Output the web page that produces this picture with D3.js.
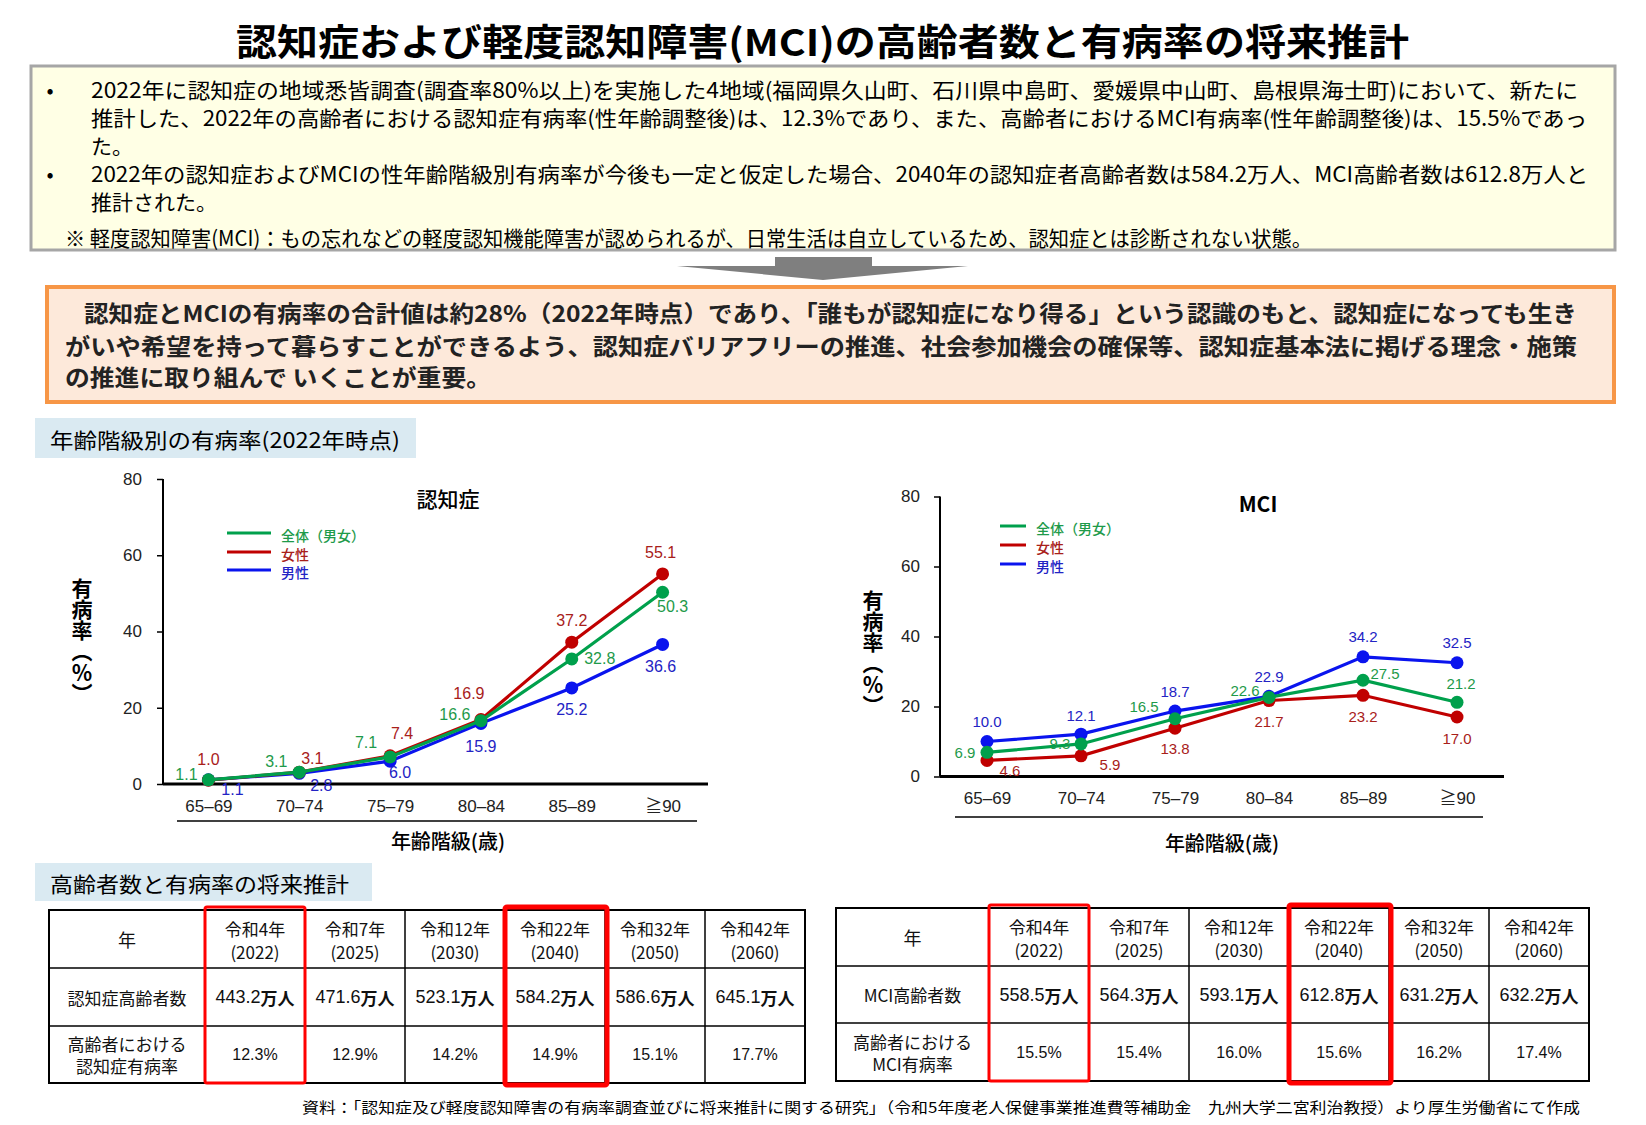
<!DOCTYPE html>
<html lang="ja">
<head>
<meta charset="UTF-8">
<title>認知症および軽度認知障害（MCI）の高齢者数と有病率の将来推計</title>
<script src="https://d3js.org/d3.v7.min.js"></script>
<style>
  body { margin: 0; background: #fff; }
  svg { display: block; font-family: "Noto Sans CJK JP", sans-serif; }
</style>
</head>
<body>
<div id="chart"></div>
<script>
// ---- data ----
const ageGroups = ["65–69", "70–74", "75–79", "80–84", "85–89", "≧90"];
const yTicks = [0, 20, 40, 60, 80];
const seriesNames = ["全体（男女）", "女性", "男性"];

const dementiaAll = [1.1, 3.1, 7.1, 16.6, 32.8, 50.3];
const dementiaFemale = [1.0, 3.1, 7.4, 16.9, 37.2, 55.1];
const dementiaMale = [1.1, 2.8, 6.0, 15.9, 25.2, 36.6];

const mciAll = [6.9, 9.3, 16.5, 22.6, 27.5, 21.2];
const mciFemale = [4.6, 5.9, 13.8, 21.7, 23.2, 17.0];
const mciMale = [10.0, 12.1, 18.7, 22.9, 34.2, 32.5];

const eraYears = ["令和4年", "令和7年", "令和12年", "令和22年", "令和32年", "令和42年"];
const adYears = ["(2022)", "(2025)", "(2030)", "(2040)", "(2050)", "(2060)"];
const dementiaCounts = [443.2, 471.6, 523.1, 584.2, 586.6, 645.1];
const dementiaRates = [12.3, 12.9, 14.2, 14.9, 15.1, 17.7];
const mciCounts = [558.5, 564.3, 593.1, 612.8, 631.2, 632.2];
const mciRates = [15.5, 15.4, 16.0, 15.6, 16.2, 17.4];
const highlightCols = [0, 3];

// label placement (pixel offsets from each point), order: all / female / male
const dementiaLabelOffsets = [
  [[-22, -5], [-23, -11], [-24, -14], [-26, -6], [28, 0], [10, 14]],
  [[0, -21], [13, -14], [12, -22], [-12, -26], [0, -22], [-2, -21]],
  [[24, 10], [22, 12], [10, 11], [0, 23], [0, 22], [-2, 22]]
];
const mciLabelOffsets = [
  [[-22, 0], [-21, 0], [-31, -12], [-24, -7], [22, -7], [4, -19]],
  [[23, 10], [29, 9], [0, 20], [0, 21], [0, 21], [0, 21]],
  [[0, -20], [0, -19], [0, -20], [0, -20], [0, -20], [0, -20]]
];

const lineColors = ["#00A04C", "#C00000", "#0A14EE"];
const textColors = ["#1E9A4A", "#A8201A", "#2323C4"];

const W = 1646, H = 1125;
const svg = d3.select("#chart").append("svg")
  .attr("width", W).attr("height", H);

// ---- title ----
svg.append("text")
  .attr("x", 236).attr("y", 40)
  .attr("dominant-baseline", "central")
  .attr("font-size", 37).attr("font-weight", "bold")
  .attr("textLength", 1173).attr("lengthAdjust", "spacingAndGlyphs")
  .text("認知症および軽度認知障害(MCI)の高齢者数と有病率の将来推計");

// ---- summary box ----
svg.append("rect")
  .attr("x", 31).attr("y", 66).attr("width", 1584).attr("height", 184)
  .attr("fill", "#FFFFE5").attr("stroke", "#A6A6A6").attr("stroke-width", 3);

const summaryLines = [
  { t: "2022年に認知症の地域悉皆調査(調査率80%以上)を実施した4地域(福岡県久山町、石川県中島町、愛媛県中山町、島根県海士町)において、新たに", x: 91, y: 89, w: 1487, bullet: true },
  { t: "推計した、2022年の高齢者における認知症有病率(性年齢調整後)は、12.3%であり、また、高齢者におけるMCI有病率(性年齢調整後)は、15.5%であっ", x: 91, y: 117, w: 1496 },
  { t: "た。", x: 91, y: 145 },
  { t: "2022年の認知症およびMCIの性年齢階級別有病率が今後も一定と仮定した場合、2040年の認知症者高齢者数は584.2万人、MCI高齢者数は612.8万人と", x: 91, y: 173, w: 1497, bullet: true },
  { t: "推計された。", x: 91, y: 201 },
  { t: "※ 軽度認知障害(MCI)：もの忘れなどの軽度認知機能障害が認められるが、日常生活は自立しているため、認知症とは診断されない状態。", x: 65, y: 237, w: 1247 }
];
summaryLines.forEach(d => {
  const t = svg.append("text").attr("x", d.x).attr("y", d.y)
    .attr("dominant-baseline", "central").attr("font-size", 21).text(d.t);
  if (d.w) t.attr("textLength", d.w).attr("lengthAdjust", "spacingAndGlyphs");
  if (d.bullet) {
    svg.append("text").attr("x", 50).attr("y", d.y).attr("dominant-baseline", "central")
      .attr("font-size", 21).attr("text-anchor", "middle").text("•");
  }
});

// ---- arrow ----
svg.append("rect").attr("x", 775).attr("y", 257).attr("width", 97).attr("height", 10).attr("fill", "#7F7F7F");
svg.append("polygon").attr("points", "677,266 968,266 823,280").attr("fill", "#7F7F7F");

// ---- message box ----
svg.append("rect")
  .attr("x", 47).attr("y", 287).attr("width", 1567).attr("height", 115)
  .attr("fill", "#FDE9DA").attr("stroke", "#F79646").attr("stroke-width", 4);
const messageLines = [
  { t: "認知症とMCIの有病率の合計値は約28%（2022年時点）であり、「誰もが認知症になり得る」という認識のもと、認知症になっても生き", x: 84, y: 312, w: 1493 },
  { t: "がいや希望を持って暮らすことができるよう、認知症バリアフリーの推進、社会参加機会の確保等、認知症基本法に掲げる理念・施策", x: 65, y: 345, w: 1512 },
  { t: "の推進に取り組んで いくことが重要。", x: 65, y: 376, w: 426 }
];
messageLines.forEach(d => {
  svg.append("text").attr("x", d.x).attr("y", d.y)
    .attr("dominant-baseline", "central").attr("font-size", 23).attr("font-weight", "bold")
    .attr("fill", "#222")
    .attr("textLength", d.w).attr("lengthAdjust", "spacingAndGlyphs").text(d.t);
});

// ---- section headers ----
function sectionLabel(x, y, w, h, text, tw) {
  svg.append("rect").attr("x", x).attr("y", y).attr("width", w).attr("height", h).attr("fill", "#DAEAF2");
  svg.append("text").attr("x", x + 15).attr("y", y + h / 2 + 1)
    .attr("dominant-baseline", "central").attr("font-size", 21)
    .attr("textLength", tw).attr("lengthAdjust", "spacingAndGlyphs").text(text);
}
sectionLabel(35, 418, 381, 40, "年齢階級別の有病率(2022年時点)", 350);
sectionLabel(35, 863, 337, 38, "高齢者数と有病率の将来推計", 299);

// ---- line charts ----
function lineChart(cfg) {
  const g = svg.append("g");
  const x = d3.scalePoint().domain(ageGroups).range([cfg.x0, cfg.x1]).padding(0.5);
  const y = d3.scaleLinear().domain([0, 80]).range([cfg.yBottom, cfg.yTop]);

  // y axis
  const ya = g.append("g").attr("transform", `translate(${cfg.x0},0)`)
    .call(d3.axisLeft(y).tickValues(yTicks).tickSize(6).tickPadding(cfg.tickPad));
  ya.select(".domain").attr("stroke", "#000").attr("stroke-width", 2).attr("d", `M0,${cfg.yBottom}V${cfg.yTop}`);
  ya.selectAll(".tick line").attr("stroke", "#000").attr("stroke-width", 1.5);
  ya.selectAll(".tick text").attr("font-size", 17).attr("fill", "#222")
    .attr("font-family", "'Liberation Sans', Arial, sans-serif");

  // x axis (labels only, thick baseline drawn separately)
  const xa = g.append("g").attr("transform", `translate(0,${cfg.yBottom})`)
    .call(d3.axisBottom(x).tickSize(0).tickPadding(cfg.xLabelPad));
  xa.select(".domain").remove();
  xa.selectAll(".tick text").attr("font-size", 17).attr("fill", "#222")
    .attr("font-family", "'Liberation Sans', 'Noto Sans CJK JP', sans-serif");
  g.append("line").attr("x1", cfg.x0).attr("x2", cfg.x1)
    .attr("y1", y(0)).attr("y2", y(0)).attr("stroke", "#000").attr("stroke-width", 3);

  // underline + axis title
  g.append("line").attr("x1", cfg.ulX0).attr("x2", cfg.ulX1)
    .attr("y1", cfg.ulY).attr("y2", cfg.ulY).attr("stroke", "#000").attr("stroke-width", 1.5);
  g.append("text").attr("x", cfg.xTitleX).attr("y", cfg.xTitleY)
    .attr("text-anchor", "middle").attr("dominant-baseline", "central")
    .attr("font-size", 20).attr("font-weight", 500).text("年齢階級(歳)");

  // y title (vertical)
  g.append("text").attr("x", cfg.yTitleX).attr("y", cfg.yTitleY)
    .style("writing-mode", "vertical-rl").style("text-orientation", "upright")
    .attr("font-size", 21).attr("font-weight", "bold").attr("letter-spacing", 0)
    .text("有病率（％）");

  // chart title
  g.append("text").attr("x", cfg.titleX).attr("y", cfg.titleY)
    .attr("text-anchor", "middle").attr("dominant-baseline", "central")
    .attr("font-size", 21).attr("font-weight", cfg.titleWeight).text(cfg.title);

  // legend
  seriesNames.forEach((name, i) => {
    g.append("line").attr("x1", cfg.legX).attr("x2", cfg.legX + cfg.legLen)
      .attr("y1", cfg.legY[i]).attr("y2", cfg.legY[i])
      .attr("stroke", lineColors[i]).attr("stroke-width", 3);
    g.append("text").attr("x", cfg.legTextX).attr("y", cfg.legY[i] + 2)
      .attr("dominant-baseline", "central").attr("font-size", 14).attr("font-weight", 500)
      .attr("fill", textColors[i]).text(name);
  });

  // series: draw male, female, then all on top
  const line = d3.line().x((d, i) => x(ageGroups[i])).y(d => y(d));
  [2, 1, 0].forEach(si => {
    const vals = cfg.series[si];
    g.append("path").datum(vals).attr("d", line)
      .attr("fill", "none").attr("stroke", lineColors[si]).attr("stroke-width", 3.2);
    g.selectAll(null).data(vals).join("circle")
      .attr("cx", (d, i) => x(ageGroups[i])).attr("cy", d => y(d))
      .attr("r", 6.5).attr("fill", lineColors[si]);
  });
  [0, 1, 2].forEach(si => {
    const vals = cfg.series[si];
    g.selectAll(null).data(vals).join("text")
      .attr("x", (d, i) => x(ageGroups[i]) + cfg.offsets[si][i][0])
      .attr("y", (d, i) => y(d) + cfg.offsets[si][i][1])
      .attr("text-anchor", "middle").attr("dominant-baseline", "central")
      .attr("font-size", cfg.labelSize)
      .attr("font-family", "'Liberation Sans', Arial, sans-serif")
      .attr("fill", textColors[si])
      .text(d => d3.format(".1f")(d));
  });
}

lineChart({
  x0: 163, x1: 708, yTop: 479, yBottom: 784, tickPad: 15, xLabelPad: 16,
  ulX0: 177, ulX1: 697, ulY: 821, xTitleX: 448, xTitleY: 840,
  yTitleX: 82, yTitleY: 578,
  title: "認知症", titleX: 448, titleY: 498, titleWeight: 500,
  legX: 227, legLen: 44, legTextX: 281, legY: [533, 552, 570],
  series: [dementiaAll, dementiaFemale, dementiaMale],
  offsets: dementiaLabelOffsets, labelSize: 16
});

lineChart({
  x0: 940, x1: 1504, yTop: 496.5, yBottom: 776.5, tickPad: 14, xLabelPad: 15,
  ulX0: 955, ulX1: 1483, ulY: 817, xTitleX: 1222, xTitleY: 842,
  yTitleX: 873, yTitleY: 590,
  title: "MCI", titleX: 1258, titleY: 503, titleWeight: "bold",
  legX: 1000, legLen: 26, legTextX: 1036, legY: [526, 545, 564],
  series: [mciAll, mciFemale, mciMale],
  offsets: mciLabelOffsets, labelSize: 15
});

// ---- tables ----
function table(cfg) {
  const g = svg.append("g");
  const xs = [cfg.x0];
  cfg.colW.forEach(w => xs.push(xs[xs.length - 1] + w));
  const ys = cfg.rows;
  const cx = i => (xs[i + 1] + xs[i + 2]) / 2;
  const mid = r => (ys[r] + ys[r + 1]) / 2;

  g.append("rect").attr("x", xs[0]).attr("y", ys[0])
    .attr("width", xs[xs.length - 1] - xs[0]).attr("height", ys[3] - ys[0])
    .attr("fill", "#fff").attr("stroke", "#000").attr("stroke-width", 2);
  g.selectAll(null).data(xs.slice(1, -1)).join("line")
    .attr("x1", d => d).attr("x2", d => d).attr("y1", ys[0]).attr("y2", ys[3])
    .attr("stroke", "#000").attr("stroke-width", 1.5);
  g.selectAll(null).data(ys.slice(1, 3)).join("line")
    .attr("x1", xs[0]).attr("x2", xs[xs.length - 1]).attr("y1", d => d).attr("y2", d => d)
    .attr("stroke", "#000").attr("stroke-width", 1.5);

  const labX = (xs[0] + xs[1]) / 2;
  const txt = (x, y, s, size) => g.append("text").attr("x", x).attr("y", y)
    .attr("text-anchor", "middle").attr("dominant-baseline", "central")
    .attr("font-size", size).attr("fill", "#111").text(s);

  txt(labX, mid(0), "年", 18);
  txt(labX, mid(1), cfg.countLabel, 17);
  txt(labX, mid(2) - 11, "高齢者における", 17);
  txt(labX, mid(2) + 11, cfg.rateLabel, 17);

  g.selectAll(null).data(eraYears).join("text")
    .attr("x", (d, i) => cx(i)).attr("y", ys[0] + 18)
    .attr("text-anchor", "middle").attr("dominant-baseline", "central")
    .attr("font-size", 17).attr("fill", "#111").text(d => d);
  g.selectAll(null).data(adYears).join("text")
    .attr("x", (d, i) => cx(i)).attr("y", ys[0] + 41)
    .attr("text-anchor", "middle").attr("dominant-baseline", "central")
    .attr("font-size", 17).attr("fill", "#111").text(d => d);

  const cnt = g.selectAll(null).data(cfg.counts).join("text")
    .attr("x", (d, i) => cx(i)).attr("y", mid(1))
    .attr("text-anchor", "middle").attr("dominant-baseline", "central")
    .attr("font-size", 17).attr("fill", "#111");
  cnt.append("tspan").attr("font-family", "'Liberation Sans Narrow', 'Liberation Sans', sans-serif")
    .attr("font-size", 18).text(d => d3.format(".1f")(d));
  cnt.append("tspan").attr("font-weight", "bold").text("万人");

  g.selectAll(null).data(cfg.rates).join("text")
    .attr("x", (d, i) => cx(i)).attr("y", mid(2))
    .attr("text-anchor", "middle").attr("dominant-baseline", "central")
    .attr("font-size", 16).attr("fill", "#111")
    .attr("font-family", "'Liberation Sans Narrow', 'Liberation Sans', sans-serif")
    .text(d => d3.format(".1f")(d) + "%");

  // highlighted years
  highlightCols.forEach((c, k) => {
    const sw = k === 0 ? 3 : 5;
    g.append("rect")
      .attr("x", xs[c + 1]).attr("y", ys[0] - 3)
      .attr("width", xs[c + 2] - xs[c + 1] + (k === 0 ? 0 : 2)).attr("height", ys[3] - ys[0] + (k === 0 ? 3 : 5))
      .attr("rx", 2).attr("fill", "none").attr("stroke", "#FF0000").attr("stroke-width", sw);
  });
}

table({
  x0: 49, colW: [156, 100, 100, 100, 100, 100, 100], rows: [910, 968, 1026, 1083],
  countLabel: "認知症高齢者数", rateLabel: "認知症有病率",
  counts: dementiaCounts, rates: dementiaRates
});
table({
  x0: 836, colW: [153, 100, 100, 100, 100, 100, 100], rows: [908, 966, 1023, 1081],
  countLabel: "MCI高齢者数", rateLabel: "MCI有病率",
  counts: mciCounts, rates: mciRates
});

// ---- source ----
svg.append("text").attr("x", 302).attr("y", 1106)
  .attr("dominant-baseline", "central").attr("font-size", 15)
  .attr("textLength", 1278).attr("lengthAdjust", "spacingAndGlyphs")
  .text("資料：「認知症及び軽度認知障害の有病率調査並びに将来推計に関する研究」（令和5年度老人保健事業推進費等補助金　九州大学二宮利治教授）より厚生労働省にて作成");
</script>
</body>
</html>
